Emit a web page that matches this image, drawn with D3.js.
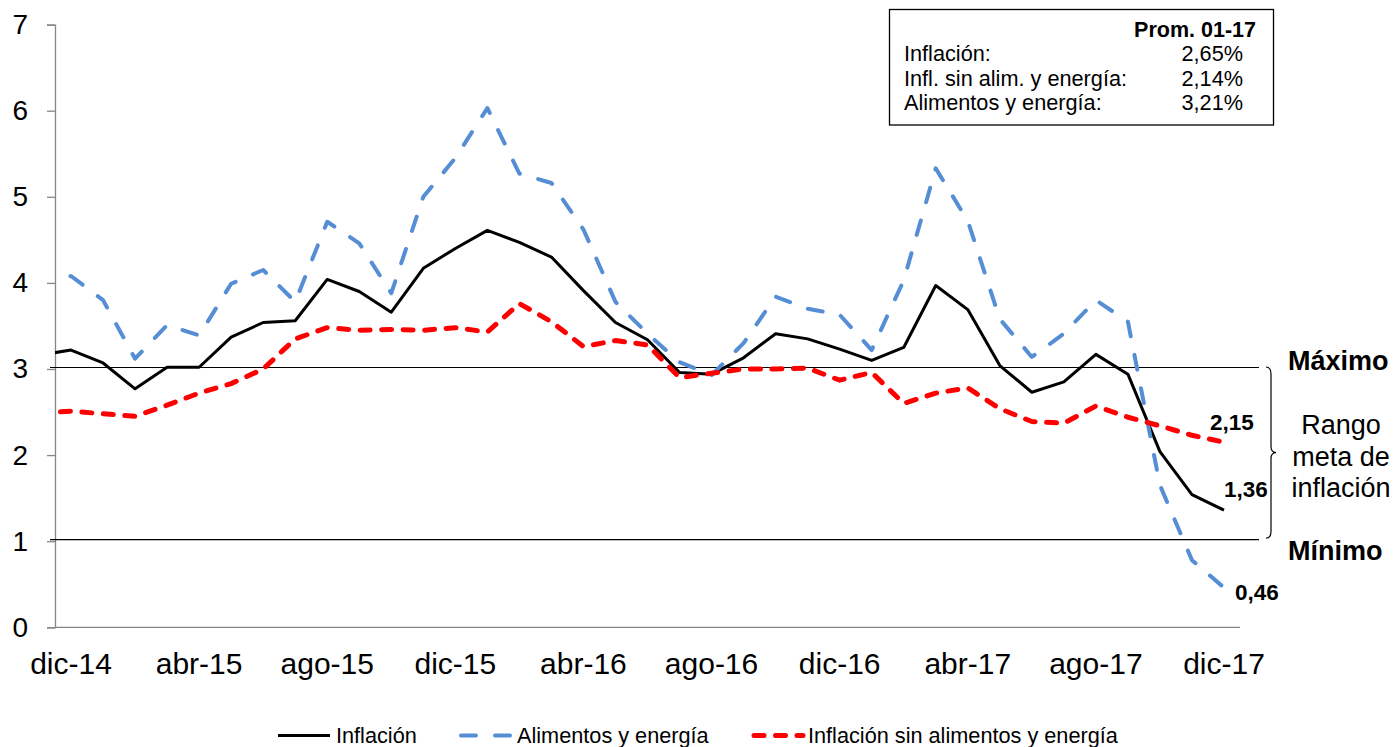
<!DOCTYPE html>
<html>
<head>
<meta charset="utf-8">
<script src="https://cdn.jsdelivr.net/npm/d3@7/dist/d3.min.js"></script>
<style>
  html, body { margin: 0; padding: 0; background: #fff; }
  svg { display: block; font-family: "Liberation Sans", Arial, sans-serif; }
</style>
</head>
<body>
<svg id="chart" width="1395" height="747"></svg>
<script>
// ---- Data ----
const categories = ["nov-14","dic-14","ene-15","feb-15","mar-15","abr-15","may-15","jun-15","jul-15","ago-15","sep-15","oct-15","nov-15","dic-15",
  "ene-16","feb-16","mar-16","abr-16","may-16","jun-16","jul-16","ago-16","sep-16","oct-16","nov-16","dic-16",
  "ene-17","feb-17","mar-17","abr-17","may-17","jun-17","jul-17","ago-17","sep-17","oct-17","nov-17","dic-17"];
const inflacion = [3.16,3.22,3.07,2.77,3.02,3.02,3.37,3.54,3.56,4.04,3.90,3.66,4.17,4.40,
  4.61,4.47,4.30,3.91,3.54,3.34,2.96,2.94,3.13,3.41,3.35,3.23,
  3.10,3.25,3.97,3.69,3.04,2.73,2.85,3.17,2.94,2.04,1.54,1.36];
const alimentosEnergia = [3.93,4.08,3.80,3.12,3.51,3.39,3.99,4.15,3.78,4.71,4.46,3.88,5.00,5.45,
  6.03,5.27,5.16,4.62,3.78,3.41,3.08,2.93,3.30,3.84,3.70,3.63,
  3.22,4.03,5.33,4.72,3.58,3.14,3.41,3.80,3.55,1.65,0.78,0.46];
const sinAlimentosEnergia = [2.49,2.51,2.48,2.45,2.58,2.72,2.83,3.00,3.35,3.48,3.45,3.46,3.45,3.48,
  3.43,3.76,3.55,3.26,3.33,3.28,2.90,2.95,3.00,3.00,3.01,2.87,
  2.96,2.60,2.72,2.78,2.54,2.39,2.37,2.57,2.44,2.34,2.23,2.15];
const xTickLabels = ["dic-14","abr-15","ago-15","dic-15","abr-16","ago-16","dic-16","abr-17","ago-17","dic-17"];
const yTicks = [0,1,2,3,4,5,6,7];
const rangoMeta = { maximo: 3, minimo: 1 };
const seriesNames = ["Inflación", "Alimentos y energía", "Inflación sin alimentos y energía"];
const promTitle = "Prom. 01-17";
const promLabels = ["Inflación:", "Infl. sin alim. y energía:", "Alimentos y energía:"];
const promValues = ["2,65%", "2,14%", "3,21%"];
const endLabels = ["1,36", "0,46", "2,15"];

// ---- Layout ----
const svg = d3.select("#chart");
const plot = { left: 55, right: 1240, top: 24.6, bottom: 627.3 };
const x = d3.scaleLinear().domain([0.5, categories.length - 0.5]).range([plot.left, plot.right]);
const y = d3.scaleLinear().domain([0, 7]).range([plot.bottom, plot.top]);
const FONT = "'Liberation Sans', Arial, sans-serif";

svg.append("defs").append("clipPath").attr("id", "clip")
  .append("rect").attr("x", plot.left).attr("y", 0)
  .attr("width", plot.right - plot.left).attr("height", plot.bottom);

// Y axis
const yAxis = d3.axisLeft(y).tickValues(yTicks).tickSize(8).tickPadding(19).tickFormat(d3.format("d"));
const gy = svg.append("g").attr("transform", `translate(${plot.left},0)`).call(yAxis);
gy.select(".domain").attr("stroke", "#868686").attr("stroke-width", 1.3);
gy.selectAll(".tick line").attr("stroke", "#868686").attr("stroke-width", 1.3);
gy.selectAll(".tick text").attr("fill", "#000").attr("font-size", 28).attr("font-family", FONT);

// X axis line
svg.append("line").attr("x1", plot.left).attr("x2", plot.right)
  .attr("y1", y(0)).attr("y2", y(0)).attr("stroke", "#868686").attr("stroke-width", 1.3);

// X tick labels
svg.append("g").selectAll("text").data(xTickLabels).join("text")
  .attr("x", d => x(categories.indexOf(d)))
  .attr("y", 673.5)
  .attr("text-anchor", "middle")
  .attr("font-size", 30)
  .attr("font-family", FONT)
  .attr("fill", "#000")
  .text(d => d);

// Target range lines
[rangoMeta.maximo, rangoMeta.minimo].forEach(v => {
  svg.append("line").attr("x1", 50).attr("x2", 1259)
    .attr("y1", y(v) - 1.5).attr("y2", y(v) - 1.5)
    .attr("stroke", "#000").attr("stroke-width", 1.2);
});

// Series
const line = d3.line().x((d, i) => x(i)).y(d => y(d));
const gLines = svg.append("g").attr("clip-path", "url(#clip)");
const styles = [
  { data: inflacion, color: "#000000", width: 3, dash: null, cap: "butt" },
  { data: alimentosEnergia, color: "#558ED5", width: 4, dash: "15,19", cap: "round" },
  { data: sinAlimentosEnergia, color: "#FF0000", width: 5, dash: "10,11.5", cap: "round" }
];
styles.forEach(s => {
  gLines.append("path").datum(s.data)
    .attr("d", line)
    .attr("fill", "none")
    .attr("stroke", s.color)
    .attr("stroke-width", s.width)
    .attr("stroke-linejoin", "round")
    .attr("stroke-linecap", s.cap)
    .attr("stroke-dasharray", s.dash);
});

// End value labels
const last = categories.length - 1;
const endPos = [
  { dx: 0, y: 496.7 },
  { dx: 11, y: 600 },
  { dx: -14, y: 430 }
];
endLabels.forEach((t, i) => {
  svg.append("text").attr("x", x(last) + endPos[i].dx).attr("y", endPos[i].y)
    .attr("font-size", 22.5).attr("font-weight", "bold").attr("font-family", FONT)
    .attr("fill", "#000").text(t);
});

// Máximo / Mínimo
svg.append("text").attr("x", 1288).attr("y", 369.5).attr("font-size", 27).attr("font-weight", "bold")
  .attr("font-family", FONT).text("Máximo");
svg.append("text").attr("x", 1288).attr("y", 560).attr("font-size", 27).attr("font-weight", "bold")
  .attr("font-family", FONT).text("Mínimo");

// Rango meta de inflación
const rt = svg.append("text").attr("font-size", 27).attr("font-family", FONT).attr("text-anchor", "middle");
["Rango", "meta de", "inflación"].forEach((t, i) => {
  rt.append("tspan").attr("x", 1341).attr("y", 434.3 + i * 31.5).text(t);
});

// Brace
const bTop = y(rangoMeta.maximo) - 2, bBot = y(rangoMeta.minimo) - 3, bMid = (bTop + bBot) / 2;
svg.append("path")
  .attr("d", `M1266,${bTop} Q1271,${bTop} 1271,${bTop + 7} L1271,${bMid - 6} Q1271,${bMid} 1276,${bMid} Q1271,${bMid} 1271,${bMid + 6} L1271,${bBot - 7} Q1271,${bBot} 1266,${bBot}`)
  .attr("fill", "none").attr("stroke", "#000").attr("stroke-width", 1.2);

// Prom box
svg.append("rect").attr("x", 889.5).attr("y", 9.5).attr("width", 384).attr("height", 115.5)
  .attr("fill", "#fff").attr("stroke", "#000").attr("stroke-width", 1.3);
svg.append("text").attr("x", 1256).attr("y", 36.5).attr("text-anchor", "end")
  .attr("font-size", 21.5).attr("font-weight", "bold").attr("font-family", FONT).text(promTitle);
promLabels.forEach((t, i) => {
  svg.append("text").attr("x", 904).attr("y", 61 + i * 24.7)
    .attr("font-size", 21.7).attr("font-family", FONT).text(t);
  svg.append("text").attr("x", 1243).attr("y", 61 + i * 24.7).attr("text-anchor", "end")
    .attr("font-size", 21.7).attr("font-family", FONT).text(promValues[i]);
});

// Legend
const legend = [
  { x1: 278, x2: 330, tx: 336, s: styles[0], name: seriesNames[0] },
  { x1: 461, x2: 511, tx: 517, s: styles[1], name: seriesNames[1] },
  { x1: 754, x2: 803, tx: 808, s: styles[2], name: seriesNames[2] }
];
legend.forEach(l => {
  svg.append("line").attr("x1", l.x1).attr("x2", l.x2).attr("y1", 735.5).attr("y2", 735.5)
    .attr("stroke", l.s.color).attr("stroke-width", l.s.width)
    .attr("stroke-linecap", l.s.cap).attr("stroke-dasharray", l.s.dash);
  svg.append("text").attr("x", l.tx).attr("y", 742.5).attr("font-size", 21.7)
    .attr("font-family", FONT).attr("fill", "#000").text(l.name);
});
</script>
</body>
</html>
